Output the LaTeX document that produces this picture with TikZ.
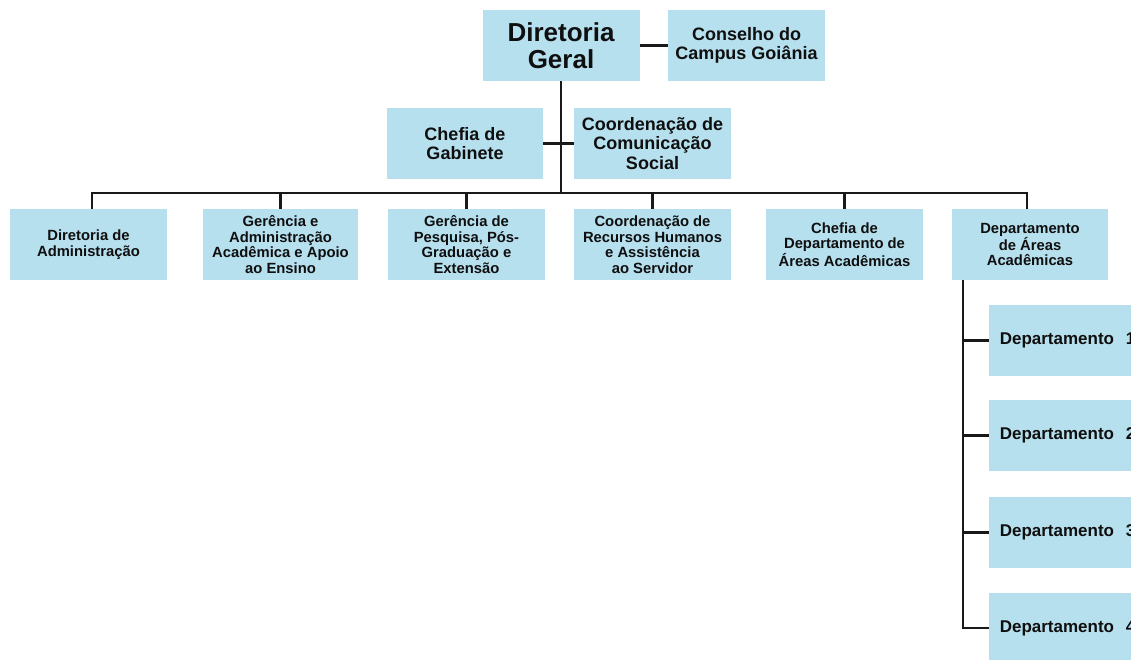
\documentclass[tikz,border=0pt]{standalone}
\usepackage{fontspec}
\setmainfont{Liberation Sans}
\definecolor{boxblue}{RGB}{183,224,239}
\definecolor{linec}{RGB}{25,25,25}
\definecolor{txt}{RGB}{15,15,15}
\begin{document}
\begin{tikzpicture}[x=1pt,y=-1pt,
  box/.style={fill=boxblue,draw=none,inner sep=0pt,minimum width=157pt,minimum height=71pt,align=center,text=txt,font=\bfseries},
  topfont/.style={font=\fontsize{26}{27}\selectfont\bfseries},
  midfont/.style={font=\fontsize{18}{19.5}\selectfont\bfseries},
  lowfont/.style={font=\fontsize{14.8}{15.5}\selectfont\bfseries},
  depfont/.style={font=\fontsize{17}{19}\selectfont\bfseries},
  conn/.style={draw=linec,line width=2.4pt}]
\useasboundingbox (0,0) rectangle (1131,659);
\fill[white] (0,0) rectangle (1131,659);
\clip (0,0) rectangle (1131,659);
% top
\node[box,topfont] (dg) at (561,45.5) {Diretoria\\Geral};
\node[box,midfont] (cons) at (746.5,45.5) {Conselho do\\Campus Goiânia};
\node[box,midfont,minimum width=156pt] (gab) at (465,143.5) {Chefia de\\Gabinete};
\node[box,midfont] (ccs) at (652.5,143.5) {Coordenação de\\Comunicação\\Social};
% lower row
\node[box,lowfont] (b1) at (88.5,244.5) {Diretoria de\\Administração};
\node[box,lowfont,minimum width=155pt] (b2) at (280.5,244.5) {Gerência e\\Administração\\Acadêmica e Apoio\\ao Ensino};
\node[box,lowfont] (b3) at (466.5,244.5) {Gerência de\\Pesquisa, Pós-\\Graduação e\\Extensão};
\node[box,lowfont] (b4) at (652.5,244.5) {Coordenação de\\Recursos Humanos\\e Assistência\\ao Servidor};
\node[box,lowfont] (b5) at (844.5,244.5) {Chefia de\\Departamento de\\Áreas Acadêmicas};
\node[box,lowfont,minimum width=156pt] (b6) at (1030,244.5) {Departamento\\de Áreas\\Acadêmicas};
% departments
\node[box,depfont] (d1) at (1067.5,340.5) {Departamento\hspace{7pt} 1};
\node[box,depfont] (d2) at (1067.5,435.5) {Departamento\hspace{7pt} 2};
\node[box,depfont] (d3) at (1067.5,532.5) {Departamento\hspace{7pt} 3};
\node[box,depfont] (d4) at (1067.5,628) {Departamento\hspace{7pt} 4};
% connectors
\coordinate (bus) at (561,193);
\coordinate (busL) at (92,193);
\coordinate (busR) at (1027,193);
\coordinate (vtop) at (963,280);
\draw[conn] (dg.east) -- (cons.west);
\draw[conn] (dg.south) -- (dg.south |- bus);
\draw[conn] (gab.east) -- (ccs.west);
\draw[conn] (b1.north -| busL) -- (busL) -- (busR) -- (b6.north -| busR);
\draw[conn] (b2.north) -- (b2.north |- bus);
\draw[conn] (b3.north) -- (b3.north |- bus);
\draw[conn] (b4.north) -- (b4.north |- bus);
\draw[conn] (b5.north) -- (b5.north |- bus);
\draw[conn] (vtop) |- (d4.west);
\draw[conn] (d1.west -| vtop) -- (d1.west);
\draw[conn] (d2.west -| vtop) -- (d2.west);
\draw[conn] (d3.west -| vtop) -- (d3.west);
\end{tikzpicture}
\end{document}
